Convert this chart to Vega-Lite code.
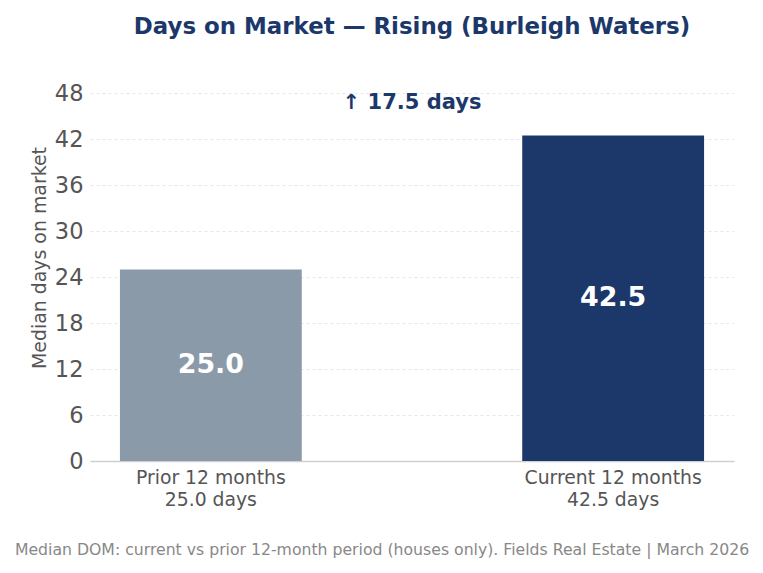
{
  "$schema": "https://vega.github.io/schema/vega-lite/v6.json",
  "width": 644,
  "height": 407,
  "autosize": {"type": "none"},
  "padding": {"left": 90, "top": 54, "right": 29, "bottom": 112},
  "background": "white",
  "config": {
    "font": "DejaVu Sans",
    "view": {"stroke": null}
  },
  "title": {
    "text": "Days on Market — Rising (Burleigh Waters)",
    "anchor": "middle",
    "frame": "group",
    "font": "DejaVu Sans",
    "fontSize": 22.9,
    "fontWeight": "bold",
    "color": "#1c386a",
    "offset": 15
  },
  "data": {
    "values": [
      {"period": "Prior 12 months|25.0 days", "days": 25.0, "label": "25.0", "kind": "prior"},
      {"period": "Current 12 months|42.5 days", "days": 42.5, "label": "42.5", "kind": "current"}
    ]
  },
  "encoding": {
    "x": {
      "field": "period",
      "type": "nominal",
      "sort": null,
      "scale": {"paddingInner": 0.548, "paddingOuter": 0.0744},
      "axis": {
        "labelAngle": 0,
        "labelExpr": "split(datum.value, '|')",
        "labelFontSize": 18.8,
        "labelColor": "#555555",
        "labelLineHeight": 22,
        "labelPadding": 7,
        "ticks": false,
        "domainColor": "#d0d0d0",
        "domainWidth": 1.5,
        "title": "Median DOM: current vs prior 12-month period (houses only). Fields Real Estate | March 2026",
        "titleFontSize": 15.7,
        "titleFontWeight": "normal",
        "titleColor": "#888888",
        "titleX": 291.5,
        "titleY": 88,
        "titleAlign": "center",
        "titleBaseline": "middle"
      }
    }
  },
  "layer": [
    {
      "mark": {"type": "bar"},
      "encoding": {
        "y": {
          "field": "days",
          "type": "quantitative",
          "scale": {"domain": [0, 53.125], "nice": false},
          "axis": {
            "values": [0, 6, 12, 18, 24, 30, 36, 42, 48],
            "title": "Median days on market",
            "titleFontSize": 18.9,
            "titleFontWeight": "normal",
            "titleColor": "#555555",
            "titlePadding": 5,
            "labelFontSize": 22.5,
            "labelColor": "#555555",
            "labelPadding": 7,
            "ticks": false,
            "domain": false,
            "grid": true,
            "gridColor": "#e2e2e2",
            "gridDash": [3, 3],
            "gridWidth": 0.8
          }
        },
        "color": {
          "field": "kind",
          "type": "nominal",
          "scale": {"domain": ["prior", "current"], "range": ["#8b9aa9", "#1c386a"]},
          "legend": null
        }
      }
    },
    {
      "transform": [{"calculate": "datum.days / 2", "as": "mid"}],
      "mark": {"type": "text", "color": "white", "fontWeight": "bold", "fontSize": 26.8, "baseline": "middle", "align": "center"},
      "encoding": {
        "y": {"field": "mid", "type": "quantitative"},
        "text": {"field": "label"}
      }
    },
    {
      "data": {"values": [{"note": "↑ 17.5 days", "pos": 46.7}]},
      "mark": {"type": "text", "color": "#1c386a", "fontWeight": "bold", "fontSize": 21, "baseline": "middle", "align": "center"},
      "encoding": {
        "x": null,
        "y": {"field": "pos", "type": "quantitative"},
        "text": {"field": "note"}
      }
    }
  ]
}
